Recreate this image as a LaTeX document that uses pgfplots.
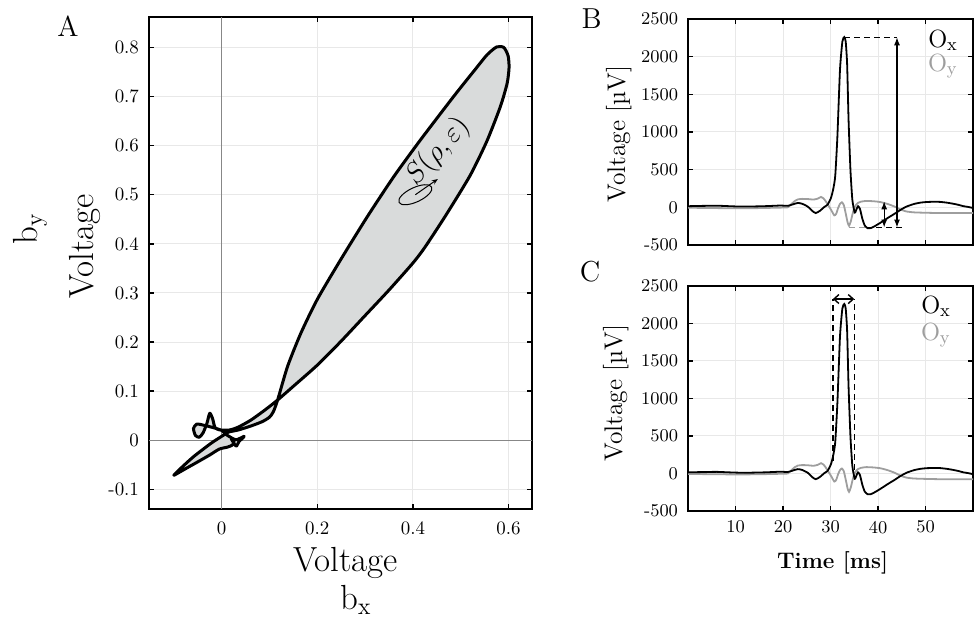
\documentclass[border=0pt]{standalone}
\usepackage{pgfplots}
\usepackage{pgfplotstable}
\pgfplotsset{compat=1.18}
\usetikzlibrary{arrows.meta}

\definecolor{gridc}{RGB}{232,232,232}
\definecolor{fillc}{RGB}{217,219,219}
\definecolor{oyc}{RGB}{158,158,158}
\definecolor{zeroc}{RGB}{135,135,135}

\pgfplotstableread{
t v
0 15
2 18
4 20
6 22
8 17
10 12
12 10
14 12
16 15
18 20
19.5 24
21 20
22 38
23.1 58
24 48
25.2 10
26.2 -50
26.9 -76
27.8 -45
28.7 5
29.4 36
30.1 125
30.6 250
31 420
31.45 940
32 1830
32.5 2200
32.9 2260
33.2 2200
33.5 1900
33.8 1165
34.2 495
34.6 100
35.1 -70
35.5 -20
35.8 15
36.2 -20
36.7 -150
37.2 -240
37.8 -276
38.5 -275
39.2 -254
40.5 -205
42 -143
43.5 -85
44.8 -31
46 10
47.6 45
49 63
50.3 71
52 74
53.1 72
54.5 62
55.9 47
57 32
58 15
59 5
60 -9
}\oxdata

\pgfplotstableread{
t v
0 -5
3 -8
6 -10
9 -12
12 -12
15 -10
18 -6
20 -3
21 0
21.7 40
22.5 85
23.1 105
24 112
25.2 110
26.4 103
27.3 115
28 138
28.5 120
29 80
29.6 20
30.1 -31
30.8 -107
31.2 -85
31.6 -10
32 45
32.4 67
32.8 30
33.2 -80
33.6 -200
33.9 -245
34.3 -180
34.6 -98
35 -10
35.3 27
35.8 60
36.4 75
37.5 85
39.2 80
40.5 70
42 45
43.5 10
44.8 -31
46 -55
47.6 -67
50 -72
53 -76
56 -76
60 -76
}\oydata

\pgfplotsset{
  mystyle/.style={
    scale only axis, anchor=south west,
    grid=major, grid style={gridc, line width=0.5bp},
    axis line style={black, line width=1bp},
    tick align=inside, xtick pos=both, ytick pos=both,
    xticklabel pos=lower, yticklabel pos=left,
    major tick length=2.6bp, tick style={black, line width=0.7bp},
  }
}

\begin{document}
\begin{tikzpicture}[x=1bp,y=1bp]
% ---------------- Panel A ----------------
\begin{axis}[mystyle,
  at={(74.5bp,56.5bp)}, width=191.5bp, height=246bp,
  xmin=-0.152, xmax=0.649, ymin=-0.140, ymax=0.862,
  xtick={0,0.2,0.4,0.6}, xticklabels={0,0.2,0.4,0.6},
  ytick={-0.1,0,0.1,0.2,0.3,0.4,0.5,0.6,0.7,0.8},
  yticklabels={-0.1,0,0.1,0.2,0.3,0.4,0.5,0.6,0.7,0.8},
  tick label style={font=\fontsize{9.5}{11}\selectfont},
  xticklabel style={yshift=-3bp},
  yticklabel style={xshift=-1.5bp},
  axis line style={black, line width=1.2bp},
]
\addplot[zeroc, line width=0.5bp] coordinates {(0,-0.14) (0,0.862)};
\addplot[zeroc, line width=0.5bp] coordinates {(-0.152,0) (0.649,0)};
\addplot[fill=fillc, draw=black, line width=1.5bp, smooth, tension=0.4, line join=round] coordinates {
(0.015,0.017) (0.0,0.008) (-0.022,-0.006) (-0.057,-0.032) (-0.08,-0.052) (-0.100,-0.071)
(-0.09,-0.066) (-0.072,-0.056) (-0.05,-0.044) (-0.025,-0.03) (-0.005,-0.018) (0.012,-0.014)
(0.022,-0.01) (0.026,-0.004) (0.02,0.003) (0.03,-0.012) (0.036,-0.003) (0.047,0.008)
(0.03,0.001) (0.012,0.01) (0.0,0.02) (-0.015,0.025) (-0.035,0.03) (-0.052,0.033)
(-0.059,0.024) (-0.055,0.010) (-0.047,0.006) (-0.039,0.015) (-0.031,0.034) (-0.025,0.055)
(-0.019,0.044) (-0.014,0.026) (-0.004,0.021) (0.017,0.021) (0.035,0.027) (0.061,0.041)
(0.091,0.062) (0.117,0.082) (0.15,0.11) (0.2,0.153) (0.25,0.202) (0.3,0.254) (0.35,0.306)
(0.4,0.361) (0.425,0.393) (0.47,0.46) (0.52,0.54) (0.555,0.61) (0.583,0.68)
(0.597,0.727) (0.601,0.759) (0.599,0.783) (0.59,0.8) (0.575,0.801) (0.555,0.785)
(0.53,0.755) (0.485,0.7) (0.416,0.612) (0.36,0.537) (0.305,0.456) (0.249,0.368)
(0.2,0.287) (0.166,0.219) (0.138,0.151) (0.117,0.082) (0.108,0.058) (0.1,0.047)
(0.085,0.038) (0.061,0.029) (0.035,0.021) (0.015,0.017)
} -- cycle;
\draw[line width=0.5bp, rotate around={25:(axis cs:0.405,0.5)}] (axis cs:0.405,0.5) ellipse [x radius=9bp, y radius=3.6bp];
\draw[line width=0.5bp, -{Stealth[length=3bp,width=2.4bp]}] (axis cs:0.405,0.5) -- (axis cs:0.452,0.532);
\node[rotate=48, font=\fontsize{14}{16}\selectfont] at (axis cs:0.452,0.588) {$S(\rho,\varepsilon)$};
\end{axis}

% ---------------- Panel B ----------------
\begin{axis}[mystyle,
  at={(344bp,188.5bp)}, width=142.5bp, height=113bp,
  xmin=0, xmax=60, ymin=-500, ymax=2500,
  xtick={10,20,30,40,50}, xticklabels={},
  ytick={-500,0,500,1000,1500,2000,2500},
  yticklabels={-500,0,500,1000,1500,2000,2500},
  tick label style={font=\fontsize{9}{10}\selectfont},
  yticklabel style={xshift=-1.5bp},
]
\draw[line width=0.7bp, dash pattern=on 3bp off 2bp] (axis cs:32.9,2257) -- (axis cs:44,2257);
\draw[oyc, line width=0.7bp, dash pattern=on 3bp off 2bp] (axis cs:33.9,-268) -- (axis cs:37.5,-268);
\draw[line width=0.7bp, dash pattern=on 3bp off 2bp] (axis cs:37.5,-268) -- (axis cs:45.3,-268);
\addplot[oyc, line width=0.9bp, smooth, tension=0.35] table[x=t,y=v] {\oydata};
\addplot[black, line width=0.9bp, smooth, tension=0.35] table[x=t,y=v] {\oxdata};
\draw[line width=0.6bp, {Latex[length=4bp,width=3bp]}-{Latex[length=4bp,width=3bp]}] (axis cs:44,-268) -- (axis cs:44,2257);
\draw[line width=0.6bp, {Latex[length=4bp,width=3bp]}-{Latex[length=4bp,width=3bp]}] (axis cs:41.3,-268) -- (axis cs:41.3,80);
\end{axis}

% ---------------- Panel C ----------------
\begin{axis}[mystyle,
  at={(344bp,55.5bp)}, width=142.5bp, height=112.5bp,
  xmin=0, xmax=60, ymin=-500, ymax=2500,
  xtick={10,20,30,40,50}, xticklabels={10,20,30,40,50},
  ytick={-500,0,500,1000,1500,2000,2500},
  yticklabels={-500,0,500,1000,1500,2000,2500},
  tick label style={font=\fontsize{9}{10}\selectfont},
  xticklabel style={yshift=-1.5bp},
  yticklabel style={xshift=-1.5bp},
]
\draw[line width=0.7bp, dash pattern=on 3bp off 2bp] (axis cs:30.5,161) -- (axis cs:30.5,2326);
\draw[line width=0.7bp, dash pattern=on 3bp off 2bp] (axis cs:35,49) -- (axis cs:35,2326);
\addplot[oyc, line width=0.9bp, smooth, tension=0.35] table[x=t,y=v] {\oydata};
\addplot[black, line width=0.9bp, smooth, tension=0.35] table[x=t,y=v] {\oxdata};
\draw[line width=0.7bp, {Straight Barb[length=2.5bp,width=4.5bp]}-{Straight Barb[length=2.5bp,width=4.5bp]}] (axis cs:30.5,2326) -- (axis cs:35,2326);
\end{axis}

% ---------------- Labels ----------------
\node[font=\fontsize{14.5}{16}\selectfont] at (34,298) {A};
\node[font=\fontsize{14.5}{16}\selectfont] at (295.8,301.5) {B};
\node[font=\fontsize{14.5}{16}\selectfont] at (295,175) {C};

\node[anchor=base, font=\fontsize{17.5}{20}\selectfont] at (172.8,25.2) {Voltage};
\node[anchor=base, font=\fontsize{17.5}{20}\selectfont] at (178,6.5) {b$_{\mathrm{x}}$};
\node[anchor=base, rotate=90, font=\fontsize{17.5}{20}\selectfont] at (46.8,187.7) {Voltage};
\node[anchor=base, rotate=90, font=\fontsize{17.5}{20}\selectfont] at (18.5,196.7) {b$_{\mathrm{y}}$};

\node[anchor=base, rotate=90, font=\fontsize{12.8}{14}\selectfont] at (312.5,244) {Voltage [\textmu V]};
\node[anchor=base, rotate=90, font=\fontsize{12.8}{14}\selectfont] at (311,114.5) {Voltage [\textmu V]};
\node[anchor=base, font=\bfseries\fontsize{11.3}{13}\selectfont] at (416.3,26.8) {Time [ms]};

\node[anchor=base east, font=\fontsize{12.5}{14}\selectfont] at (482.5,287.3) {O$_{\mathrm{x}}$};
\node[anchor=base east, font=\fontsize{12.5}{14}\selectfont, text=oyc] at (482.5,275.3) {O$_{\mathrm{y}}$};
\node[anchor=base east, font=\fontsize{12.5}{14}\selectfont] at (479,154.3) {O$_{\mathrm{x}}$};
\node[anchor=base east, font=\fontsize{12.5}{14}\selectfont, text=oyc] at (479,141) {O$_{\mathrm{y}}$};

\pgfresetboundingbox
\useasboundingbox (0,0) rectangle (488bp,311bp);
\end{tikzpicture}
\end{document}
